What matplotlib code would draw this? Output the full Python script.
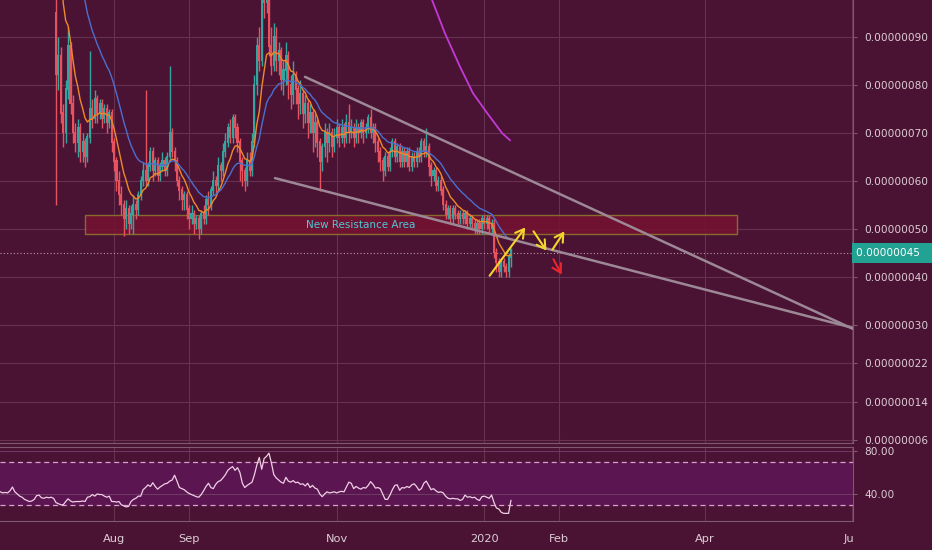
import matplotlib
matplotlib.use("Agg")
import matplotlib.pyplot as plt
import numpy as np
import pandas as pd
from matplotlib.patches import Rectangle

# ---------------- data ----------------
start_date = "2019-07-08"          # day 0 of the daily candles
open0 = 95
closes = [82, 86, 74, 70, 79, 88, 76, 70, 68, 71,
          66, 68, 65, 69, 75, 73, 77, 74, 76, 73,
          75, 72, 74, 68, 64, 60, 57, 55, 52, 54,
          51, 53, 55, 54, 57, 60, 62, 60, 63, 66,
          62, 64, 61, 63, 64, 62, 65, 70, 66, 64,
          60, 58, 56, 57, 54, 52, 53, 51, 52, 50,
          53, 52, 56, 55, 58, 60, 59, 63, 62, 66,
          68, 71, 69, 73, 71, 68, 64, 62, 60, 64,
          62, 68, 80, 88, 85, 99, 97, 100, 88, 84,
          90, 85, 87, 81, 83, 86, 80, 78, 82, 79,
          76, 78, 74, 76, 72, 74, 70, 72, 68, 64,
          67, 70, 68, 70, 67, 69, 71, 69, 71, 69,
          72, 70, 71, 69, 71, 70, 72, 70, 71, 73,
          70, 71, 68, 66, 64, 62, 65, 63, 66, 68,
          65, 67, 64, 66, 64, 66, 63, 65, 64, 66,
          65, 68, 66, 67, 63, 61, 62, 59, 60, 58,
          55, 53, 54, 52, 54, 53, 52, 53, 52, 53,
          51, 52, 51, 50, 51, 50, 52, 51, 52, 50,
          51, 45, 43, 41, 43, 42, 41, 44, 45.5]
highs = [110, 90, 88, 76, 81, 92, 89, 78, 72, 73,
         72, 70, 69, 70, 87, 77, 79, 78, 77, 77,
         76, 76, 75, 75, 69, 65, 62, 59, 56, 56,
         55, 55, 57, 56, 58, 61, 64, 79, 64, 67,
         67, 65, 65, 64, 66, 65, 66, 84, 71, 67,
         65, 61, 59, 58, 58, 55, 55, 54, 53, 53,
         54, 55, 57, 58, 59, 62, 61, 65, 64, 68,
         70, 72, 73, 74, 74, 72, 69, 65, 63, 66,
         66, 70, 82, 90, 92, 103, 103, 104, 103, 92,
         93, 92, 89, 88, 85, 89, 87, 82, 85, 83,
         80, 81, 79, 78, 77, 76, 75, 74, 73, 69,
         68, 72, 71, 72, 71, 71, 73, 72, 73, 72,
         74, 76, 73, 72, 73, 72, 73, 73, 72, 74,
         75, 72, 72, 69, 67, 65, 66, 66, 67, 69,
         69, 68, 68, 67, 67, 67, 67, 66, 66, 67,
         67, 69, 69, 71, 68, 64, 63, 63, 61, 61,
         59, 56, 55, 55, 55, 55, 54, 54, 54, 54,
         54, 53, 53, 52, 52, 52, 53, 53, 53, 53,
         52, 52, 46, 44, 44, 44, 43, 45, 46]
lows = [55, 79, 72, 67, 68, 77, 74, 68, 66, 65,
        64, 64, 63, 64, 68, 71, 72, 72, 73, 71,
        72, 70, 71, 66, 62, 58, 55, 53, 48.5, 50,
        49, 50, 49, 52, 53, 56, 59, 59, 59, 62,
        60, 61, 60, 60, 62, 61, 61, 64, 65, 62,
        59, 56, 54, 54, 52, 50, 51, 49, 50, 48,
        49, 51, 51, 53, 54, 57, 57, 58, 60, 61,
        65, 67, 68, 68, 69, 66, 60, 59, 58, 59,
        61, 61, 67, 78, 83, 84, 94, 95, 86, 82,
        83, 83, 82, 79, 78, 80, 77, 75, 76, 76,
        73, 74, 71, 72, 69, 70, 66, 67, 65, 58,
        62, 65, 64, 66, 65, 66, 68, 67, 68, 67,
        68, 68, 69, 67, 68, 68, 69, 68, 69, 70,
        69, 68, 66, 64, 62, 60, 61, 62, 62, 65,
        64, 64, 63, 63, 63, 63, 62, 62, 63, 63,
        64, 64, 65, 65, 61, 59, 60, 58, 58, 57,
        54, 52, 52, 51, 51, 52, 51, 51, 51, 51,
        50, 50, 50, 49, 49, 49, 49, 50, 50, 49,
        49, 44, 41, 40, 40, 41, 40, 40, 42]
# closes before the window (above the visible range), only used to seed the averages
pre_closes = [260, 250, 255, 240, 235, 225, 230, 215, 210, 200, 195, 188, 180,
              172, 165, 156, 150, 144, 136, 130, 124, 119, 113, 108, 104]

# long moving average (purple)
ma_long_days = [154, 155.4, 160.7, 167, 172.3, 178.1, 184.3, 187.6]
ma_long_vals = [100, 97.7, 90.8, 83.75, 78.3, 74.2, 70, 68.5]

# RSI, one value per day starting at day -23
rsi_start = -23
rsi_vals = [42, 41, 41.5, 41, 43, 46.5, 42, 40, 38, 37, 35, 34, 33, 33.5, 35, 38.5, 39, 36.5, 36, 37,
            36.5, 37, 36, 32, 31, 30, 30, 33, 35.5, 33.5, 32.5, 33, 33, 33, 33.5, 33, 37, 37.5, 39.5, 38,
            40, 39.5, 39.5, 38, 37, 38, 33, 33, 32.5, 33, 30, 29, 28, 28.5, 33, 35, 36, 38, 38, 44,
            46, 48.5, 47, 50.5, 47, 44.5, 46.5, 48, 49.5, 50, 52, 53, 57.5, 52, 46, 45, 44, 42, 40.5, 39.5,
            38.5, 37.5, 37, 39.5, 43, 47, 50, 46, 45, 49, 51.5, 52.5, 55, 58, 62, 64, 65.5, 62, 64.5, 60,
            50, 46, 48, 49.5, 51, 58, 67, 74, 63, 73, 75, 78, 69, 58, 55, 53, 51, 50, 55.5, 52,
            51, 52.5, 50.5, 51, 49, 49.5, 47.5, 50, 46, 48, 45.5, 44.5, 40, 37.5, 40, 42, 41, 41.5, 42, 41,
            42, 42.5, 42, 46.5, 51, 50, 45, 47, 45.5, 44.5, 46, 45.5, 48, 51.5, 49, 45.5, 46, 45, 40, 35,
            35, 39, 44, 48, 48.5, 43.5, 46, 45.5, 47, 46, 48.5, 49.5, 47, 43.5, 45, 50, 52, 48, 44, 45,
            43, 41.5, 42, 41, 38, 36, 35.5, 36, 35.5, 35.5, 34, 35, 39, 37, 37.5, 36.5, 37, 35, 34, 37.5,
            38, 37, 36, 39, 32, 27, 26, 23, 22, 22, 22, 34]

# annotations (day index, price)
upper_trend = ([102.9, 329.3], [81.7, 29.2])
lower_trend = ([90.5, 329.3], [60.6, 29.4])
zone_days = [12, 281.4]
zone_prices = [48.96, 52.9]
zone_label = "New Resistance Area"
yellow_arrows = [((178.5, 39.8), (194.6, 50.8)),
                 ((196.7, 50.0), (203.3, 45.0)),
                 ((204.5, 45.2), (210.7, 50.0))]
red_arrows = [((205.0, 44.2), (209.5, 40.0))]
last_price = 45

price_ticks = [90, 80, 70, 60, 50, 40, 30, 22, 14, 6]
tick_dates = ["2019-08-01", "2019-09-01", "2019-11-01", "2020-01-01",
              "2020-02-01", "2020-04-01", "2020-06-01"]
tick_labels = ["Aug", "Sep", "Nov", "2020", "Feb", "Apr", "Jun"]

# ---------------- style ----------------
BG = "#4b1333"
GRID = "#653350"
BORDER = "#7d5a70"
TXT = "#dccdd6"
UP = "#32a69e"
DN = "#e6535f"

W, H = 932, 550
fig = plt.figure(figsize=(W / 100, H / 100), dpi=100, facecolor=BG)
ax = fig.add_axes([0, 1 - 443 / H, 853 / W, 443 / H], facecolor=BG)
axr = fig.add_axes([0, 1 - 521 / H, 853 / W, 74 / H], facecolor=BG, sharex=ax)

t0 = pd.Timestamp(start_date)
tick_days = [(pd.Timestamp(d) - t0).days for d in tick_dates]

days = np.arange(len(closes))
opens = [open0] + closes[:-1]
c = np.array(closes, float)
o = np.array(opens, float)
up = c >= o

# moving averages from closes
allc = pd.Series(pre_closes + closes, dtype=float)
ema_fast = allc.ewm(span=9, adjust=False).mean().values[len(pre_closes):]
ema_slow = allc.ewm(span=21, adjust=False).mean().values[len(pre_closes):]

# grid
for yv in price_ticks:
    ax.axhline(yv, color=GRID, lw=0.8, zorder=0)
for xv in tick_days:
    ax.axvline(xv, color=GRID, lw=0.8, zorder=0)
    axr.axvline(xv, color=GRID, lw=0.8, zorder=0)

# resistance zone
ax.add_patch(Rectangle((zone_days[0], zone_prices[0]), zone_days[1] - zone_days[0],
                       zone_prices[1] - zone_prices[0], facecolor="#761232", alpha=0.85,
                       edgecolor="#8f7a2c", lw=1.0, zorder=1))
ax.text((zone_days[0] + zone_days[1]) / 2 - 21, sum(zone_prices) / 2, zone_label,
        color="#4fc8d8", fontsize=7.5, ha="center", va="center", zorder=6)

# candles
colors = np.where(up, UP, DN)
ax.vlines(days, lows, highs, colors=colors, lw=1.0, zorder=3)
ax.bar(days, np.abs(c - o) + 0.3, bottom=np.minimum(c, o), width=0.85,
       color=colors, edgecolor="none", zorder=4)

# averages
ax.plot(days, ema_fast, color="#ee8a2a", lw=1.0, zorder=5)
ax.plot(days, ema_slow, color="#4a6fd0", lw=1.0, zorder=5)
ax.plot(ma_long_days, ma_long_vals, color="#c23ad6", lw=1.3, zorder=5)

# trend lines
ax.plot(upper_trend[0], upper_trend[1], color="#9c8896", lw=1.8, zorder=6, solid_capstyle="round")
ax.plot(lower_trend[0], lower_trend[1], color="#9c8896", lw=1.8, zorder=6, solid_capstyle="round")

# last price line
ax.axhline(last_price, color="#b89aab", lw=0.8, ls=(0, (1, 2)), zorder=2)

# arrows
for (a, b) in yellow_arrows:
    ax.annotate("", xy=b, xytext=a,
                arrowprops=dict(arrowstyle="->,head_length=0.6,head_width=0.35",
                                color="#f3d52c", lw=1.5), zorder=7)
for (a, b) in red_arrows:
    ax.annotate("", xy=b, xytext=a,
                arrowprops=dict(arrowstyle="->,head_length=0.6,head_width=0.35",
                                color="#e8262c", lw=1.5), zorder=7)

ax.set_xlim(-23.14, 329.34)
ax.set_ylim(5.42, 97.71)

# price axis
ax.yaxis.tick_right()
ax.set_yticks(price_ticks)
ax.set_yticklabels([f"{v * 1e-8:.8f}" for v in price_ticks])
ax.tick_params(axis="y", colors=BORDER, labelcolor=TXT, labelsize=7.6, length=3, pad=5)
ax.tick_params(axis="x", bottom=False, labelbottom=False)
for s in ["top", "left"]:
    ax.spines[s].set_visible(False)
ax.spines["right"].set_color(BORDER)
ax.spines["bottom"].set_color(BORDER)

# last price label
ax.text(1.004, last_price, f"{last_price * 1e-8:.8f}  ", transform=ax.get_yaxis_transform(),
        color="white", fontsize=7.6, va="center", ha="left", zorder=10, clip_on=False,
        bbox=dict(boxstyle="square,pad=0.45", facecolor="#22a292", edgecolor="none"))

# RSI pane
rsi_days = np.arange(rsi_start, rsi_start + len(rsi_vals))
axr.axhspan(30, 70, color="#5b1550", zorder=0)
axr.axhline(70, color="#d7a3c9", lw=0.9, ls=(0, (4, 3)), zorder=1)
axr.axhline(30, color="#d7a3c9", lw=0.9, ls=(0, (4, 3)), zorder=1)
axr.axhline(40, color="#6e3c62", lw=0.7, zorder=1)
axr.axhline(80, color="#6e3c62", lw=0.7, zorder=1)
axr.plot(rsi_days, rsi_vals, color="#f0cfe6", lw=0.9, zorder=3)
axr.set_ylim(14.9, 83.7)
axr.yaxis.tick_right()
axr.set_yticks([80, 40])
axr.set_yticklabels(["80.00", "40.00"])
axr.tick_params(axis="y", colors=BORDER, labelcolor=TXT, labelsize=7.6, length=3, pad=5)
axr.set_xticks(tick_days)
axr.set_xticklabels(tick_labels)
axr.tick_params(axis="x", length=0, labelcolor=TXT, labelsize=8.2, pad=9)
for s in ["left"]:
    axr.spines[s].set_visible(False)
for s in ["right", "top", "bottom"]:
    axr.spines[s].set_color(BORDER)

# cover to clip the last time label at the price scale
cover = fig.add_axes([853.5 / W, 0, (W - 853.5) / W, 28 / H], facecolor=BG, zorder=10)
cover.axis("off")
cover.add_patch(Rectangle((0, 0), 1, 1, transform=cover.transAxes, facecolor=BG, edgecolor="none"))

fig.savefig("out.png", dpi=100, facecolor=BG)
